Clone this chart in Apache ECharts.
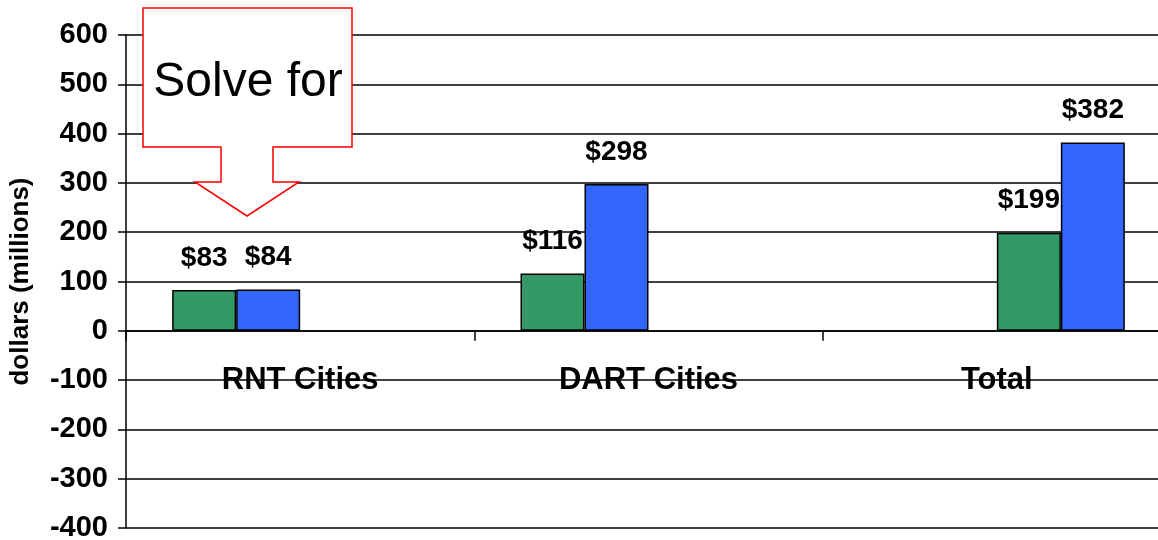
<!DOCTYPE html>
<html>
<head>
<meta charset="utf-8">
<script src="https://cdn.jsdelivr.net/npm/echarts@6/dist/echarts.min.js"></script>
<style>
  html, body { margin: 0; padding: 0; background: #fff; }
  #chart { width: 1158px; height: 540px; }
</style>
</head>
<body>
<div id="chart"></div>
<script>
// data
const categories = ["RNT Cities", "DART Cities", "Total"]
const greenValues = [83, 116, 199]
const blueValues = [84, 298, 382]
const yTicks = { min: -400, max: 600, step: 100 }

const FONT = "Liberation Sans, Arial, sans-serif"

// Total's bars sit right of centre, the others left of centre
const rightSide = categories.map(c => c === "Total")
const pick = (values, right) => values.map((v, i) => (rightSide[i] === right ? v : "-"))

const valueLabel = {
  show: true,
  position: "top",
  distance: 18,
  formatter: p => "$" + p.value,
  color: "#000",
  fontFamily: FONT,
  fontWeight: "bold",
  fontSize: 28
}

const barSeries = (values, color) => ({
  type: "bar",
  data: values,
  barWidth: 64,
  barGap: "0%",
  itemStyle: { color: color, borderColor: "#000", borderWidth: 1.5 },
  label: valueLabel,
  z: 3
})

const chart = echarts.init(document.getElementById("chart"))
chart.setOption({
  animation: false,
  backgroundColor: "#fff",
  grid: { left: 126, top: 35, width: 1045, bottom: 12, outerBoundsMode: "none", containLabel: false },
  xAxis: {
    type: "category",
    data: categories,
    axisLine: { onZero: true, lineStyle: { color: "#000", width: 1.5 } },
    axisTick: { show: true, length: 10, lineStyle: { color: "#000", width: 1.5 } },
    axisLabel: {
      // labels sit just under the zero line, not at the grid bottom
      margin: -163,
      color: "#000",
      fontFamily: FONT,
      fontWeight: "bold",
      fontSize: 31
    },
    z: 4
  },
  yAxis: {
    type: "value",
    min: yTicks.min,
    max: yTicks.max,
    interval: yTicks.step,
    name: "dollars (millions)",
    nameLocation: "middle",
    nameGap: 92,
    nameTextStyle: { color: "#000", fontFamily: FONT, fontWeight: "bold", fontSize: 26 },
    axisLine: { show: true, lineStyle: { color: "#000", width: 1.5 } },
    axisTick: { show: true, length: 8, lineStyle: { color: "#000", width: 1.5 } },
    axisLabel: {
      margin: 18,
      color: "#000",
      fontFamily: FONT,
      fontWeight: "bold",
      fontSize: 29
    },
    splitLine: { show: true, lineStyle: { color: "#000", width: 1.5 } }
  },
  series: [
    barSeries(pick(greenValues, false), "#339966"),
    barSeries(pick(blueValues, false), "#3366FF"),
    barSeries(pick(greenValues, true), "#339966"),
    barSeries(pick(blueValues, true), "#3366FF")
  ],
  // callout arrow
  graphic: [
    {
      type: "polygon",
      z: 100,
      shape: {
        points: [
          [143, 8], [352, 8], [352, 147], [273, 147], [273, 182], [299, 182],
          [247, 216], [195, 182], [221, 182], [221, 147], [143, 147]
        ]
      },
      style: { fill: "#fff", stroke: "#ff0000", lineWidth: 1.5 }
    },
    {
      type: "text",
      z: 101,
      x: 248,
      y: 83,
      style: {
        text: "Solve for",
        fill: "#000",
        font: "48px " + FONT,
        align: "center",
        verticalAlign: "middle"
      }
    }
  ]
})
</script>
</body>
</html>
